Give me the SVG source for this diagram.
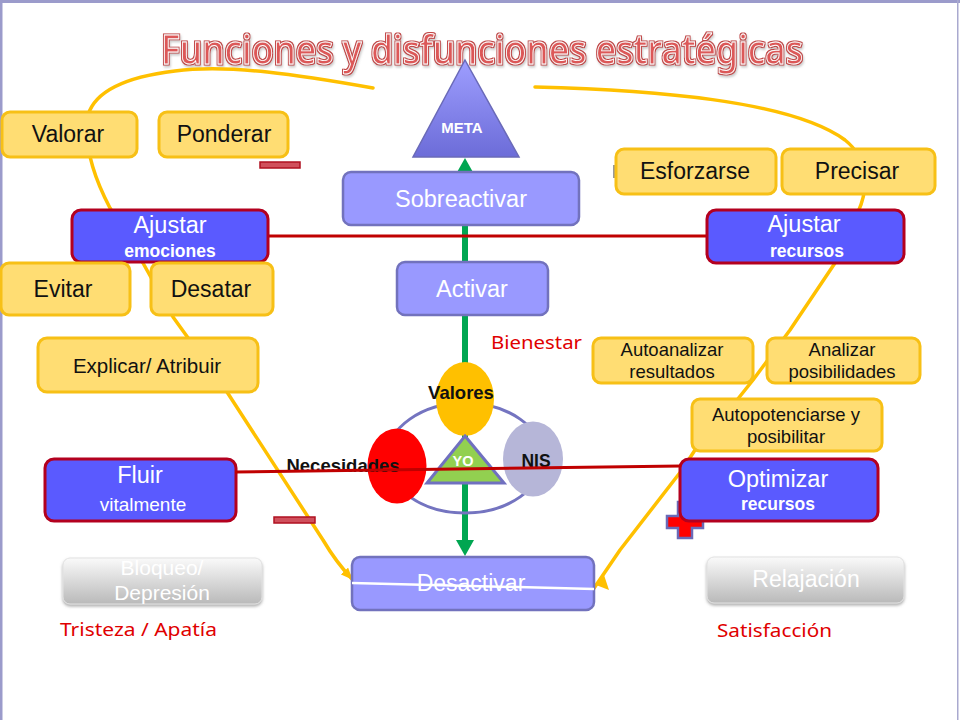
<svg xmlns="http://www.w3.org/2000/svg" width="960" height="720" viewBox="0 0 960 720">
<defs>
<style>
.y{fill:#ffdd73;stroke:#f7c016;stroke-width:3}
.b{fill:#5a5aff;stroke:#b3001f;stroke-width:3}
.l{fill:#9999ff;stroke:#7272bd;stroke-width:2.5}
.g{fill:url(#gg);stroke:#e2e2e2;stroke-width:1;filter:url(#sh)}
.t{font-family:"Liberation Sans",Arial,sans-serif;text-anchor:middle}
.tk{fill:#111}
.tw{fill:#fff}
.bd{font-weight:bold}
.red{font-family:"Noto Sans","Open Sans",sans-serif;fill:#e00000;font-size:18px}
.yl{fill:none;stroke:#ffc000;stroke-width:3.5;stroke-linecap:round;stroke-linejoin:round}
.rl{fill:none;stroke:#c00000;stroke-width:3}
.minus{fill:#d0505c;stroke:#b01020;stroke-width:1.5}
</style>
<linearGradient id="gg" x1="0" y1="0" x2="0" y2="1">
<stop offset="0" stop-color="#fafafa"/>
<stop offset="1" stop-color="#b9b9b9"/>
</linearGradient>
<linearGradient id="mg" x1="0" y1="0" x2="0" y2="1">
<stop offset="0" stop-color="#9e9eff"/>
<stop offset="1" stop-color="#6c6cd8"/>
</linearGradient>
<filter id="sh" x="-10%" y="-10%" width="120%" height="140%">
<feDropShadow dx="0" dy="2" stdDeviation="1.5" flood-color="#777" flood-opacity="0.6"/>
</filter>
<filter id="tf" x="-5%" y="-20%" width="110%" height="150%">
<feMorphology in="SourceAlpha" operator="dilate" radius="1" result="d"/>
<feFlood flood-color="#c04545"/>
<feComposite in2="d" operator="in" result="o"/>
<feDropShadow in="o" dx="1" dy="2" stdDeviation="1" flood-color="#999" flood-opacity="0.5" result="os"/>
<feMerge><feMergeNode in="os"/><feMergeNode in="SourceGraphic"/></feMerge>
</filter>
<marker id="ga" viewBox="0 0 16 18" refX="0" refY="9" markerWidth="16" markerHeight="18" markerUnits="userSpaceOnUse" orient="auto-start-reverse">
<path d="M0,0 L16,9 L0,18 z" fill="#00a651"/>
</marker>
<marker id="ya" viewBox="0 0 12 10" refX="11" refY="5" markerWidth="12" markerHeight="10" markerUnits="userSpaceOnUse" orient="auto">
<path d="M0,0 L12,5 L0,10 z" fill="#ffc000"/>
</marker>
</defs>
<rect x="0" y="0" width="960" height="720" fill="#fff"/>
<rect x="0" y="0" width="960" height="3" fill="#9b9bcb"/>
<rect x="0" y="0" width="2.5" height="720" fill="#9b9bcb"/>
<rect x="957" y="0" width="1.5" height="720" fill="#a9a9cf"/>

<text x="482" y="64" font-family="'Noto Sans','Open Sans',sans-serif" font-weight="500" font-size="40" fill="#dc5858" stroke="#fff" stroke-width="0.9" text-anchor="middle" textLength="642" lengthAdjust="spacingAndGlyphs" filter="url(#tf)">Funciones y disfunciones estratégicas</text>

<g id="connectors-back">
<path d="M465,174 L465,540" fill="none" stroke="#00a651" stroke-width="6" marker-start="url(#ga)" marker-end="url(#ga)"/>
<path class="yl" d="M373,88 C300,75 230,64 175,71 C125,77 95,92 88,115 C84,140 90,170 110,208 L143,263 L173,317 L227,392 L323,540 Q336,562 352,579" marker-end="url(#ya)"/>
<path class="yl" d="M535,87 C650,90 790,100 845,140 C870,160 868,190 858,212 L835,263 L790,330 L753,380 L737,400 L695,450 L682,470 L620,550 L588,597"/>
<polygon points="604,575 609,590 596,585" fill="#ffc000"/>
<line class="rl" x1="268" y1="236" x2="707" y2="236"/>
</g>

<rect x="260" y="162" width="40" height="6" class="minus"/>
<rect x="274" y="517" width="41" height="6" class="minus"/>
<rect x="613" y="165" width="3" height="13" fill="#999"/>
<path d="M678,502 H692 V516 H703 V528 H692 V538 H678 V528 H667 V516 H678 Z" fill="#ff0000" stroke="#6a6ab8" stroke-width="2.5"/>

<g id="meta">
<polygon points="465,60 519,157 413,157" fill="url(#mg)" stroke="#6a6ab8" stroke-width="1.5"/>
<text class="t tw bd" x="462" y="133" font-size="15">META</text>
</g>

<g id="valorar"><rect class="y" x="2" y="112" width="135" height="45" rx="8"/><text class="t tk" x="68" y="142" font-size="23">Valorar</text></g>
<g id="ponderar"><rect class="y" x="159" y="112" width="129" height="45" rx="8"/><text class="t tk" x="224" y="142" font-size="23">Ponderar</text></g>
<g id="ajustar-emociones"><rect class="b" x="72" y="210" width="196" height="52" rx="9"/><text class="t tw" x="170" y="233" font-size="23.5">Ajustar</text><text class="t tw bd" x="170" y="257" font-size="17.5">emociones</text></g>
<g id="evitar"><rect class="y" x="1" y="263" width="129" height="52" rx="8"/><text class="t tk" x="63" y="297" font-size="23">Evitar</text></g>
<g id="desatar"><rect class="y" x="151" y="263" width="122" height="52" rx="8"/><text class="t tk" x="211" y="297" font-size="23">Desatar</text></g>
<g id="explicar"><rect class="y" x="38" y="338" width="220" height="54" rx="9"/><text class="t tk" x="147" y="373" font-size="20.5">Explicar/ Atribuir</text></g>
<g id="fluir"><rect class="b" x="45" y="459" width="191" height="62" rx="9"/><text class="t tw" x="140" y="483" font-size="23.5">Fluir</text><text class="t tw" x="143" y="511" font-size="19">vitalmente</text></g>

<g id="sobreactivar"><rect class="l" x="343" y="172" width="236" height="53" rx="8"/><text class="t tw" x="461" y="207" font-size="23.5">Sobreactivar</text></g>
<g id="activar"><rect class="l" x="397" y="262" width="151" height="53" rx="8"/><text class="t tw" x="472" y="297" font-size="23.5">Activar</text></g>
<text id="bienestar" class="red" x="491" y="349" textLength="91" lengthAdjust="spacingAndGlyphs">Bienestar</text>

<g id="yo-sistema">
<ellipse cx="465" cy="458" rx="78" ry="55" fill="none" stroke="#7474c0" stroke-width="3"/>
<ellipse cx="465" cy="399" rx="29" ry="37" fill="#ffc000"/>
<text class="t tk bd" x="461" y="399" font-size="18.5">Valores</text>
<ellipse cx="397" cy="466" rx="29.5" ry="37.5" fill="#ff0000"/>
<ellipse cx="533" cy="459" rx="30" ry="37.5" fill="#b6b6d8"/>
<text class="t tk bd" x="536" y="467" font-size="17.5">NIS</text>
<polygon points="465,436 504,483 427,483" fill="#92d050" stroke="#7070c0" stroke-width="3" stroke-linejoin="miter"/>
<text class="t tw bd" x="463" y="466" font-size="14.5">YO</text>
<text class="t tk bd" x="343" y="472" font-size="18.5">Necesidades</text>
</g>

<g id="esforzarse"><rect class="y" x="616" y="149" width="160" height="45" rx="8"/><text class="t tk" x="695" y="179" font-size="23">Esforzarse</text></g>
<g id="precisar"><rect class="y" x="782" y="149" width="153" height="45" rx="8"/><text class="t tk" x="857" y="179" font-size="23">Precisar</text></g>
<g id="ajustar-recursos"><rect class="b" x="707" y="210" width="197" height="53" rx="9"/><text class="t tw" x="804" y="232" font-size="23.5">Ajustar</text><text class="t tw bd" x="807" y="257" font-size="17.5">recursos</text></g>
<g id="autoanalizar"><rect class="y" x="593" y="338" width="160" height="45" rx="8"/><text class="t tk" x="672" y="356" font-size="18.5">Autoanalizar</text><text class="t tk" x="672" y="378" font-size="18.5">resultados</text></g>
<g id="analizar"><rect class="y" x="767" y="338" width="153" height="45" rx="8"/><text class="t tk" x="842" y="356" font-size="18.5">Analizar</text><text class="t tk" x="842" y="378" font-size="18.5">posibilidades</text></g>
<g id="autopotenciarse"><rect class="y" x="692" y="399" width="190" height="52" rx="8"/><text class="t tk" x="786" y="421" font-size="18.5">Autopotenciarse y</text><text class="t tk" x="786" y="443" font-size="18.5">posibilitar</text></g>
<g id="optimizar"><rect class="b" x="680" y="459" width="198" height="62" rx="9"/><text class="t tw" x="778" y="487" font-size="23.5">Optimizar</text><text class="t tw bd" x="778" y="510" font-size="17.5">recursos</text></g>

<g id="desactivar"><rect class="l" x="352" y="557" width="242" height="53" rx="8"/><text class="t tw" x="471" y="591" font-size="23">Desactivar</text></g>
<g id="bloqueo"><rect class="g" x="63" y="558" width="199" height="46" rx="7"/><text class="t tw" x="162" y="575" font-size="21">Bloqueo/</text><text class="t tw" x="162" y="600" font-size="21">Depresión</text></g>
<text id="tristeza" class="red" x="60" y="636" textLength="157" lengthAdjust="spacingAndGlyphs">Tristeza / Apatía</text>
<g id="relajacion"><rect class="g" x="707" y="557" width="197" height="46" rx="7"/><text class="t tw" x="806" y="587" font-size="23">Relajación</text></g>
<text id="satisfaccion" class="red" x="717" y="637" textLength="115" lengthAdjust="spacingAndGlyphs">Satisfacción</text>

<g id="connectors-front">
<line class="rl" x1="235" y1="472" x2="681" y2="466"/>
<line x1="352" y1="583" x2="594" y2="589" stroke="#fff" stroke-width="2.5"/>
</g>
</svg>
